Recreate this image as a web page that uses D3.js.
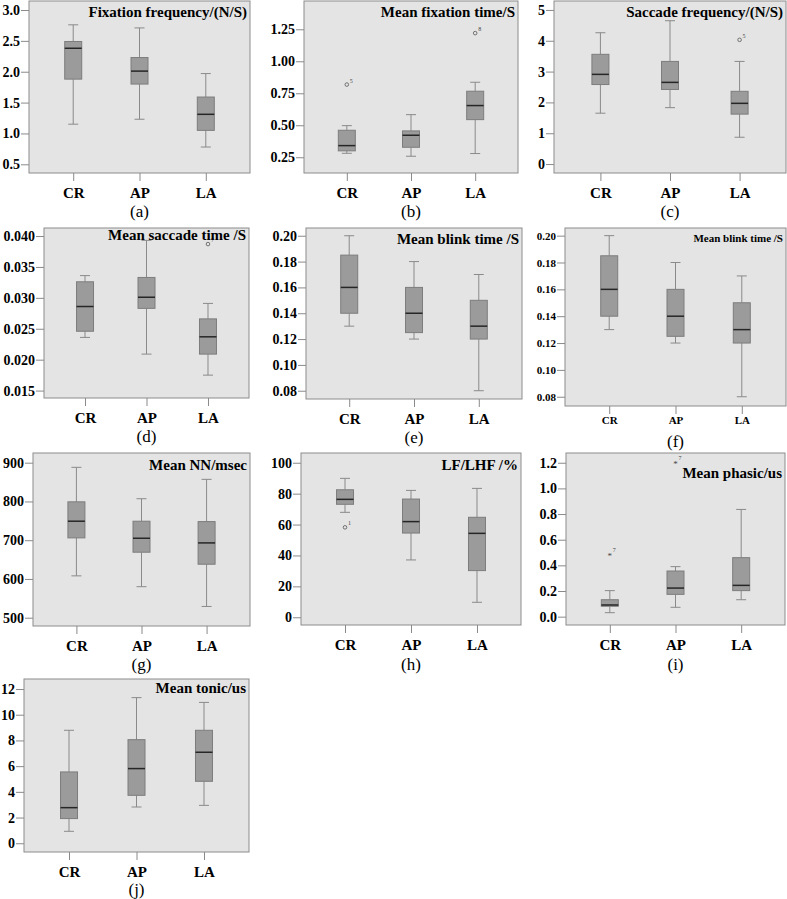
<!DOCTYPE html>
<html><head><meta charset="utf-8">
<script src="https://cdn.jsdelivr.net/npm/d3@7"></script>
<style>
html,body{margin:0;padding:0;background:#fff;}
svg{display:block;}
svg text{font-family:"Liberation Serif","Tinos","Times New Roman","Times","DejaVu Serif",serif !important;}
</style></head>
<body>
<svg id="chart" width="787" height="899"></svg>
<script>
// ---------- DATA ----------
const categories = ["CR", "AP", "LA"];
// each row: [lower whisker, Q1, median, Q3, upper whisker]
const fixationFrequency = [[1.15,1.88,2.38,2.49,2.76],[1.23,1.80,2.01,2.23,2.71],[0.78,1.05,1.31,1.59,1.97]];
const meanFixationTime  = [[0.281,0.300,0.341,0.461,0.497],[0.258,0.328,0.422,0.456,0.583],[0.279,0.544,0.654,0.766,0.836]];
const saccadeFrequency  = [[1.65,2.58,2.91,3.56,4.26],[1.83,2.42,2.65,3.33,4.65],[0.87,1.62,1.97,2.36,3.33]];
const meanSaccadeTime   = [[0.0236,0.0246,0.0286,0.0326,0.0336],[0.0209,0.0283,0.0301,0.0333,0.0393],[0.0175,0.0209,0.0237,0.0266,0.0291]];
const meanBlinkTime     = [[0.130,0.140,0.160,0.185,0.200],[0.120,0.125,0.140,0.160,0.180],[0.080,0.120,0.130,0.150,0.170]];
const meanNN            = [[608,706,749,799,888],[580,669,705,749,807],[529,638,693,748,857]];
const lfLhf             = [[67.9,73.1,76.3,82.5,89.9],[37.1,54.5,61.9,76.5,82.1],[9.7,30.2,54.3,64.7,83.4]];
const meanPhasic        = [[0.031,0.081,0.091,0.132,0.203],[0.073,0.174,0.223,0.356,0.390],[0.132,0.203,0.244,0.460,0.836]];
const meanTonic         = [[0.93,1.92,2.77,5.55,8.79],[2.82,3.73,5.81,8.06,11.33],[2.95,4.82,7.08,8.79,10.96]];

// outliers: [category, value, case label, symbol]
const outFixationTime = [["CR",0.818,"5","o"],["LA",1.22,"8","o"]];
const outSaccadeFreq  = [["LA",4.03,"5","o"]];
const outSaccadeTime  = [["LA",0.0387,"7","o"]];
const outLfLhf        = [["CR",58.2,"1","o"]];
const outPhasic       = [["CR",0.486,"7","*"],["AP",1.208,"7","*"]];

// tick values
const ticksA = [0.5,1.0,1.5,2.0,2.5,3.0];
const ticksB = [0.25,0.50,0.75,1.00,1.25];
const ticksC = [0,1,2,3,4,5];
const ticksD = [0.015,0.020,0.025,0.030,0.035,0.040];
const ticksE = [0.08,0.10,0.12,0.14,0.16,0.18,0.20];
const ticksG = [500,600,700,800,900];
const ticksH = [0,20,40,60,80,100];
const ticksI = [0.0,0.2,0.4,0.6,0.8,1.0,1.2];
const ticksJ = [0,2,4,6,8,10,12];

// ---------- LAYOUT ----------
const panels = [
  {cap:"(a)", title:"Fixation frequency/(N/S)", stats:fixationFrequency, out:[], ticks:ticksA, fmt:".1f", frame:[29,1,250,173], dom:[0.359,3.146], tdy:16, capdy:44},
  {cap:"(b)", title:"Mean fixation time/S", stats:meanFixationTime, out:outFixationTime, ticks:ticksB, fmt:".2f", frame:[304,1,518,173], dom:[0.127,1.471], tdy:16, capdy:44},
  {cap:"(c)", title:"Saccade frequency/(N/S)", stats:saccadeFrequency, out:outSaccadeFreq, ticks:ticksC, fmt:"d", frame:[554,1,786,173], dom:[-0.29,5.29], tdy:16, capdy:44},
  {cap:"(d)", title:"Mean saccade time /S", stats:meanSaccadeTime, out:outSaccadeTime, ticks:ticksD, fmt:".3f", frame:[44,228,249,398], dom:[0.0138,0.0413], tdy:12, capdy:44},
  {cap:"(e)", title:"Mean blink time /S", stats:meanBlinkTime, out:[], ticks:ticksE, fmt:".2f", frame:[306,228,522,399], dom:[0.0736,0.206], tdy:16, capdy:44},
  {cap:"(f)", title:"Mean blink time /S", stats:meanBlinkTime, out:[], ticks:ticksE, fmt:".2f", frame:[565,228,786,406], dom:[0.0731,0.2057], tdy:14, capdy:41, small:true},
  {cap:"(g)", title:"Mean NN/msec", stats:meanNN, out:[], ticks:ticksG, fmt:"d", frame:[33,453,250,626], dom:[478.6,925], tdy:17, capdy:44},
  {cap:"(h)", title:"LF/LHF /%", stats:lfLhf, out:outLfLhf, ticks:ticksH, fmt:"d", frame:[301,453,521,625], dom:[-5,106.3], tdy:17, capdy:45},
  {cap:"(i)", title:"Mean phasic/us", stats:meanPhasic, out:outPhasic, ticks:ticksI, fmt:".1f", frame:[566,453,785,625], dom:[-0.065,1.276], tdy:25, capdy:45},
  {cap:"(j)", title:"Mean tonic/us", stats:meanTonic, out:[], ticks:ticksJ, fmt:"d", frame:[24,679,249,852], dom:[-0.68,12.78], tdy:14, capdy:43}
];

const svg = d3.select("#chart");
const BG = "#e4e4e4", BOXF = "#9b9b9b", BOXS = "#7d7d7d", LINE = "#8a8a8a", MED = "#262626";
const FONT = "'Liberation Serif','Tinos','Times New Roman',serif";

panels.forEach(p => {
  const [x0,y0,x1,y1] = p.frame;
  const tickFont = p.small ? 11 : 14;
  const catFont = p.small ? 11 : 15;
  const titleFont = p.small ? 11 : 15;
  const g = svg.append("g");

  const x = d3.scalePoint().domain(categories).range([x0,x1]).padding(0.667);
  const y = d3.scaleLinear().domain(p.dom).range([y1,y0]);

  g.append("rect").attr("x",x0).attr("y",y0).attr("width",x1-x0).attr("height",y1-y0)
    .attr("fill",BG).attr("stroke","#8c8c8c").attr("stroke-width",1);

  // y axis
  const ya = g.append("g").attr("transform",`translate(${x0},0)`)
    .call(d3.axisLeft(y).tickValues(p.ticks).tickFormat(d3.format(p.fmt)).tickSize(8).tickPadding(1));
  ya.attr("font-family",FONT);
  ya.select(".domain").remove();
  ya.selectAll("line").attr("stroke",LINE);
  ya.selectAll("text").attr("font-size",tickFont).attr("font-weight","bold").attr("fill","#000");

  // x axis
  const xa = g.append("g").attr("transform",`translate(0,${y1})`)
    .call(d3.axisBottom(x).tickSize(8).tickPadding(p.small?2:6));
  xa.attr("font-family",FONT);
  xa.select(".domain").remove();
  xa.selectAll("line").attr("stroke",LINE);
  xa.selectAll("text").attr("font-size",catFont).attr("font-weight","bold").attr("fill","#000");

  const bw = 17, cw = 10;
  const boxes = g.append("g").selectAll("g").data(p.stats).join("g")
    .attr("transform",(d,i)=>`translate(${x(categories[i])},0)`);
  boxes.append("line").attr("y1",d=>y(d[0])).attr("y2",d=>y(d[1])).attr("stroke",LINE);
  boxes.append("line").attr("y1",d=>y(d[3])).attr("y2",d=>y(d[4])).attr("stroke",LINE);
  boxes.append("line").attr("x1",-cw/2).attr("x2",cw/2).attr("y1",d=>y(d[0])).attr("y2",d=>y(d[0])).attr("stroke",LINE);
  boxes.append("line").attr("x1",-cw/2).attr("x2",cw/2).attr("y1",d=>y(d[4])).attr("y2",d=>y(d[4])).attr("stroke",LINE);
  boxes.append("rect").attr("x",-bw/2).attr("width",bw)
    .attr("y",d=>y(d[3])).attr("height",d=>y(d[1])-y(d[3]))
    .attr("fill",BOXF).attr("stroke",BOXS).attr("stroke-width",1);
  boxes.append("line").attr("x1",-bw/2).attr("x2",bw/2).attr("y1",d=>y(d[2])).attr("y2",d=>y(d[2]))
    .attr("stroke",MED).attr("stroke-width",1.5);

  // outliers
  const outs = g.append("g").selectAll("g").data(p.out).join("g")
    .attr("transform",d=>`translate(${x(d[0])},${y(d[1])})`);
  outs.filter(d=>d[3]==="o").append("circle").attr("r",1.8).attr("fill","none").attr("stroke","#555").attr("stroke-width",0.8);
  outs.filter(d=>d[3]==="*").append("text").text("*").attr("font-size",9).attr("text-anchor","middle").attr("dy",5).attr("fill","#444");
  outs.append("text").text(d=>d[2]).attr("x",3).attr("y",-2).attr("font-size",6).attr("fill","#444");

  // title
  g.append("text").attr("x",x1-3).attr("y",y0+p.tdy).attr("text-anchor","end")
    .attr("font-size",titleFont).attr("font-weight","bold").attr("fill","#000").text(p.title);

  // caption
  g.append("text").attr("x",(x0+x1)/2).attr("y",y1+p.capdy).attr("text-anchor","middle")
    .attr("font-size",17).attr("fill","#000").text(p.cap);
});
</script>
</body></html>
